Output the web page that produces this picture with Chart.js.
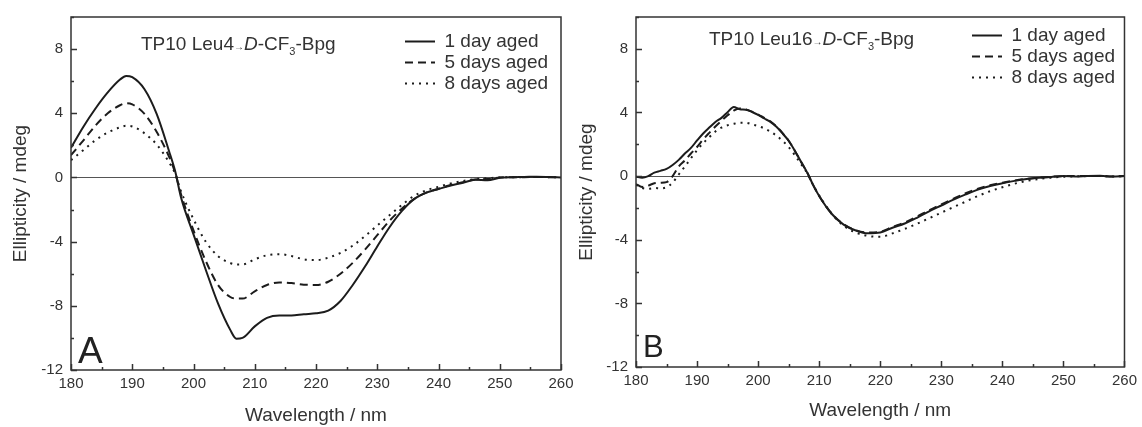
<!DOCTYPE html>
<html lang="en">
<head>
<meta charset="UTF-8">
<title>CD spectra TP10</title>
<script src="https://cdn.jsdelivr.net/npm/chart.js@4.4.1/dist/chart.umd.min.js"></script>
<style>
  body { margin: 0; background: #fff; }
  #wrap { position: relative; width: 1142px; height: 427px; overflow: hidden;
          font-family: 'Liberation Sans', Arial, sans-serif; color: #333; }
  canvas { position: absolute; top: 0; }
  .note { position: absolute; font-size: 19px; line-height: 1; white-space: nowrap; }
  .note .arr { font-size: 10px; }
  .note .sub { font-size: 11px; position: relative; top: 5px; }
  .tag { position: absolute; line-height: 1; color: #222; }
</style>
</head>
<body>
<div id="wrap">
  <canvas id="chartA" width="580" height="427" style="left:0;width:580px;height:427px"></canvas>
  <canvas id="chartB" width="572" height="427" style="left:570px;width:572px;height:427px"></canvas>

  <div class="note" style="left:141px;top:34px">TP10 Leu4<span class="arr">&rarr;</span><i>D</i>-CF<span class="sub">3</span>-Bpg</div>
  <div class="note" style="left:709px;top:29px">TP10 Leu16<span class="arr">&rarr;</span><i>D</i>-CF<span class="sub">3</span>-Bpg</div>
  <div class="tag" style="left:78px;top:332px;font-size:37px">A</div>
  <div class="tag" style="left:643px;top:331px;font-size:31px">B</div>
</div>

<script>
// wavelengths (nm) and ellipticity (mdeg)
const wavelengthA = [180, 182, 184, 186, 188, 189, 190, 192, 194, 196, 197,
  198, 200, 202, 204, 206, 207, 208,
  210, 212, 214, 216, 218, 220, 222, 224, 226, 228, 230, 232, 234, 236, 238,
  240, 242, 244, 246, 248, 250, 252, 254, 256, 258, 260];

const oneDayA = [1.85, 3.15, 4.3, 5.3, 6.1, 6.33, 6.25, 5.5, 3.95, 1.65, 0.4,
  -1.3, -3.55, -5.75, -7.85, -9.5, -10.05, -10.0,
  -9.28, -8.75, -8.6, -8.6, -8.52, -8.47, -8.3, -7.7, -6.7, -5.55, -4.3, -3.1, -2.1, -1.35, -0.95,
  -0.72, -0.5, -0.33, -0.15, -0.18, -0.02, 0.02, 0.03, 0.05, 0.03, 0];

const fiveDaysA = [1.39, 2.3, 3.24, 4.0, 4.5, 4.62, 4.55, 3.96, 2.83, 1.3, 0.3,
  -1.1, -3.3, -5.2, -6.7, -7.45, -7.55, -7.55,
  -7.1, -6.7, -6.55, -6.58, -6.68, -6.7, -6.5, -6.0, -5.32, -4.5, -3.6, -2.7, -1.95, -1.35, -0.95,
  -0.7, -0.47, -0.3, -0.13, -0.1, 0, 0.02, 0.02, 0.03, 0.02, 0];

const eightDaysA = [1.08, 1.7, 2.32, 2.8, 3.12, 3.22, 3.18, 2.75, 2.05, 0.95, 0.25,
  -0.9, -2.6, -4.0, -4.9, -5.33, -5.42, -5.42,
  -5.1, -4.85, -4.78, -4.9, -5.1, -5.15, -5.0, -4.7, -4.25, -3.65, -3.0, -2.35, -1.72, -1.15, -0.8,
  -0.58, -0.38, -0.22, -0.1, -0.05, 0, 0.02, 0.02, 0.03, 0.02, 0];

const wavelengthB = [180, 181, 182, 183, 184, 185, 186, 187, 188, 189, 190, 191, 192, 193, 194,
  195, 196, 197, 198, 199, 200, 201, 202, 203, 204, 205, 206, 207, 208, 209, 210,
  212, 214, 216, 218, 220, 222, 224, 226, 228, 230, 232, 234, 236, 238,
  240, 242, 244, 246, 248, 250, 252, 254, 256, 258, 260];

const oneDayB = [-0.04, -0.1, 0, 0.22, 0.33, 0.45, 0.7, 1.02, 1.42, 1.77, 2.24, 2.68, 3.05, 3.4, 3.66,
  4.02, 4.35, 4.2, 4.17, 4.03, 3.85, 3.62, 3.41, 3.1, 2.68, 2.22, 1.6, 0.92, 0.25, -0.55, -1.25,
  -2.35, -3.05, -3.42, -3.6, -3.55, -3.25, -2.98, -2.62, -2.22, -1.85, -1.48, -1.15, -0.85, -0.62,
  -0.45, -0.3, -0.18, -0.1, -0.05, 0, -0.02, 0.01, 0.02, -0.03, 0];

const fiveDaysB = [-0.5, -0.68, -0.6, -0.45, -0.42, -0.38, 0, 0.6, 0.98, 1.42, 1.83, 2.3, 2.72, 3.12, 3.48,
  3.82, 4.12, 4.25, 4.18, 4.05, 3.87, 3.66, 3.45, 3.12, 2.7, 2.22, 1.6, 0.92, 0.25, -0.55, -1.25,
  -2.33, -3.02, -3.4, -3.55, -3.5, -3.2, -2.92, -2.55, -2.15, -1.78, -1.42, -1.08, -0.8, -0.58,
  -0.42, -0.28, -0.17, -0.1, -0.04, 0, 0.01, 0, 0.01, -0.02, 0];

const eightDaysB = [-0.55, -0.75, -0.8, -0.75, -0.77, -0.7, -0.4, 0.1, 0.6, 1.12, 1.63, 2.07, 2.44, 2.8, 3.05,
  3.2, 3.29, 3.35, 3.35, 3.25, 3.15, 3.0, 2.8, 2.54, 2.22, 1.83, 1.32, 0.77, 0.2, -0.55, -1.22,
  -2.35, -3.12, -3.55, -3.76, -3.82, -3.6, -3.32, -3.0, -2.65, -2.3, -1.95, -1.6, -1.25, -0.95,
  -0.7, -0.48, -0.3, -0.18, -0.1, -0.04, -0.02, 0, 0, -0.02, 0];

const seriesNames = ['1 day aged', '5 days aged', '8 days aged'];
const xTickValues = [180, 190, 200, 210, 220, 230, 240, 250, 260];
const yTickValues = [-12, -8, -4, 0, 4, 8];

Chart.defaults.font.family = "'Liberation Sans', Arial, sans-serif";
Chart.defaults.color = '#333';

// box round the plot + inward ticks, like the origin plot
const frameTicks = {
  id: 'frameTicks',
  afterDraw(chart) {
    const { ctx, chartArea: a, scales: { x, y } } = chart;
    ctx.save();
    ctx.strokeStyle = '#333';
    ctx.lineWidth = 1.5;
    ctx.strokeRect(a.left, a.top, a.right - a.left, a.bottom - a.top);
    ctx.beginPath();
    for (let v = 180; v <= 260; v += 5) {
      const px = Math.round(x.getPixelForValue(v)) + 0.5;
      ctx.moveTo(px, a.bottom);
      ctx.lineTo(px, a.bottom - (v % 10 === 0 ? 6 : 3));
    }
    for (let v = -12; v <= 10; v += 2) {
      const py = Math.round(y.getPixelForValue(v)) + 0.5;
      ctx.moveTo(a.left, py);
      ctx.lineTo(a.left + (v % 4 === 0 ? 6 : 3), py);
    }
    ctx.stroke();
    ctx.restore();
  }
};

// legend sits inside the plot, top right
const legendSpot = {
  id: 'legendSpot',
  afterLayout(chart, args, opts) {
    const lg = chart.legend;
    if (!lg) return;
    const w = lg.width, h = lg.height;
    lg.left = opts.left;
    lg.top = opts.top;
    lg.right = lg.left + w;
    lg.bottom = lg.top + h;
  }
};

function makePanel(id, wavelengths, series, lay) {
  const styles = [[], [8, 5], [2, 5]];
  const datasets = series.map((vals, i) => ({
    label: seriesNames[i],
    data: vals,
    borderColor: '#1c1c1c',
    backgroundColor: '#1c1c1c',
    borderWidth: 2,
    borderDash: styles[i],
    pointRadius: 0,
    cubicInterpolationMode: 'monotone',
    fill: false
  }));

  return new Chart(document.getElementById(id), {
    type: 'line',
    data: { labels: wavelengths, datasets: datasets },
    options: {
      responsive: false,
      animation: false,
      devicePixelRatio: 1,
      layout: { padding: { left: 0, top: lay.top, right: lay.right, bottom: 0 } },
      plugins: {
        tooltip: { enabled: false },
        legend: {
          position: 'chartArea',
          align: 'start',
          labels: {
            usePointStyle: true,
            pointStyle: 'line',
            pointStyleWidth: 30,
            padding: 2,
            color: '#333',
            font: { size: 19 },
            generateLabels: chart => {
              const items = Chart.defaults.plugins.legend.labels.generateLabels(chart);
              items.forEach(it => {
                const ds = chart.data.datasets[it.datasetIndex];
                it.lineDash = ds.borderDash;
                it.lineWidth = 2;
                it.strokeStyle = ds.borderColor;
              });
              return items;
            }
          }
        },
        legendSpot: lay.legend
      },
      scales: {
        x: {
          type: 'linear',
          min: 180,
          max: 260,
          afterBuildTicks: s => { s.ticks = xTickValues.map(v => ({ value: v })); },
          afterFit: s => { s.height = lay.xh; },
          ticks: { font: { size: 15 }, color: '#333', padding: 5, maxRotation: 0, autoSkip: false },
          grid: { drawOnChartArea: false, drawTicks: false },
          border: { display: false },
          title: { display: true, text: 'Wavelength / nm', font: { size: 19 }, color: '#333',
                   padding: { top: 0, bottom: lay.xtPad } }
        },
        y: {
          min: -12,
          max: 10,
          afterBuildTicks: s => { s.ticks = yTickValues.map(v => ({ value: v })); },
          afterFit: s => { s.width = lay.yw; },
          ticks: { font: { size: 15 }, color: '#333', padding: 8 },
          grid: {
            drawTicks: false,
            color: c => (c.tick && c.tick.value === 0 ? '#555' : 'rgba(0,0,0,0)'),
            lineWidth: 1
          },
          border: { display: false },
          title: { display: true, text: 'Ellipticity / mdeg', font: { size: 19 }, color: '#333',
                   padding: { top: lay.ytPad, bottom: 0 } }
        }
      }
    },
    plugins: [frameTicks, legendSpot]
  });
}

makePanel('chartA', wavelengthA, [oneDayA, fiveDaysA, eightDaysA],
  { top: 11, right: 19, yw: 71, xh: 57, xtPad: 0, ytPad: 9, legend: { left: 403, top: 30 } });

makePanel('chartB', wavelengthB, [oneDayB, fiveDaysB, eightDaysB],
  { top: 7, right: 15, yw: 66, xh: 60, xtPad: 5, ytPad: 5, legend: { left: 400, top: 24 } });
</script>
</body>
</html>
